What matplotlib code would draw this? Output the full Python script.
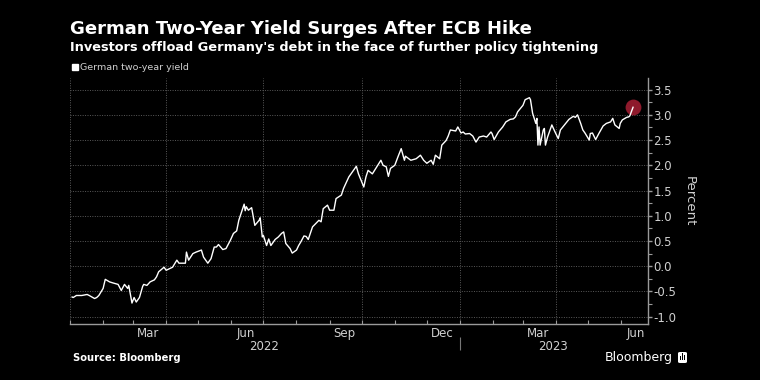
import matplotlib
matplotlib.use("Agg")
import matplotlib.pyplot as plt
import matplotlib.dates as mdates
from matplotlib.ticker import MultipleLocator, FixedLocator, NullFormatter
from matplotlib.lines import Line2D
from matplotlib.patches import FancyBboxPatch, Rectangle
import pandas as pd

# ---------------- data ----------------
dates = [
    "2022-01-03", "2022-01-04", "2022-01-07", "2022-01-12", "2022-01-17", "2022-01-19",
    "2022-01-24", "2022-01-26", "2022-01-28", "2022-02-01", "2022-02-03", "2022-02-07",
    "2022-02-10", "2022-02-15", "2022-02-18", "2022-02-21", "2022-02-24", "2022-02-25",
    "2022-02-28", "2022-03-02", "2022-03-04", "2022-03-07", "2022-03-10", "2022-03-11",
    "2022-03-14", "2022-03-17", "2022-03-21", "2022-03-23", "2022-03-25", "2022-03-30",
    "2022-04-01", "2022-04-04", "2022-04-07", "2022-04-11", "2022-04-13", "2022-04-19",
    "2022-04-20", "2022-04-22", "2022-04-26", "2022-04-29", "2022-05-04", "2022-05-06",
    "2022-05-10", "2022-05-13", "2022-05-16", "2022-05-18", "2022-05-20", "2022-05-24",
    "2022-05-27", "2022-05-31", "2022-06-03", "2022-06-06", "2022-06-08", "2022-06-13",
    "2022-06-14", "2022-06-15", "2022-06-17", "2022-06-20", "2022-06-23", "2022-06-27",
    "2022-06-28", "2022-06-30", "2022-07-01", "2022-07-04", "2022-07-06", "2022-07-08",
    "2022-07-12", "2022-07-15", "2022-07-18", "2022-07-20", "2022-07-22", "2022-07-26",
    "2022-07-28", "2022-08-01", "2022-08-03", "2022-08-05", "2022-08-08", "2022-08-10",
    "2022-08-12", "2022-08-16", "2022-08-22", "2022-08-24", "2022-08-26", "2022-08-30",
    "2022-09-01", "2022-09-05", "2022-09-07", "2022-09-12", "2022-09-14", "2022-09-19",
    "2022-09-26", "2022-09-28", "2022-10-03", "2022-10-05", "2022-10-07", "2022-10-11",
    "2022-10-14", "2022-10-19", "2022-10-21", "2022-10-24", "2022-10-26", "2022-10-28",
    "2022-11-01", "2022-11-04", "2022-11-07", "2022-11-10", "2022-11-11", "2022-11-16",
    "2022-11-21", "2022-11-25", "2022-11-28", "2022-12-01", "2022-12-05", "2022-12-07",
    "2022-12-09", "2022-12-13", "2022-12-15", "2022-12-19", "2022-12-21", "2022-12-23",
    "2022-12-28", "2022-12-30", "2023-01-02", "2023-01-04", "2023-01-06", "2023-01-10",
    "2023-01-13", "2023-01-16", "2023-01-19", "2023-01-23", "2023-01-26", "2023-01-30",
    "2023-01-31", "2023-02-02", "2023-02-06", "2023-02-08", "2023-02-10", "2023-02-13",
    "2023-02-17", "2023-02-20", "2023-02-22", "2023-02-24", "2023-03-01", "2023-03-03",
    "2023-03-07", "2023-03-08", "2023-03-10", "2023-03-13", "2023-03-14", "2023-03-15",
    "2023-03-16", "2023-03-17", "2023-03-20", "2023-03-21", "2023-03-22", "2023-03-24",
    "2023-03-28", "2023-03-31", "2023-04-03", "2023-04-05", "2023-04-11", "2023-04-13",
    "2023-04-17", "2023-04-19", "2023-04-21", "2023-04-24", "2023-04-26", "2023-04-28",
    "2023-05-02", "2023-05-03", "2023-05-05", "2023-05-08", "2023-05-11", "2023-05-15",
    "2023-05-18", "2023-05-22", "2023-05-24", "2023-05-26", "2023-05-30", "2023-05-31",
    "2023-06-02", "2023-06-06", "2023-06-08", "2023-06-09", "2023-06-12",
]
yield_2y = [
    -0.61, -0.62, -0.58, -0.58, -0.56, -0.58,
    -0.64, -0.62, -0.58, -0.44, -0.26, -0.31,
    -0.33, -0.36, -0.48, -0.36, -0.44, -0.38,
    -0.73, -0.62, -0.71, -0.62, -0.40, -0.36,
    -0.38, -0.31, -0.27, -0.21, -0.11, -0.02,
    -0.08, -0.05, -0.02, 0.12, 0.06, 0.06,
    0.28, 0.12, 0.25, 0.28, 0.32, 0.18,
    0.06, 0.15, 0.38, 0.38, 0.43, 0.33,
    0.35, 0.51, 0.65, 0.70, 0.91, 1.23,
    1.10, 1.18, 1.11, 1.16, 0.81, 0.91,
    0.96, 0.58, 0.61, 0.41, 0.54, 0.41,
    0.53, 0.58, 0.65, 0.68, 0.45, 0.35,
    0.26, 0.32, 0.41, 0.48, 0.60, 0.59,
    0.53, 0.78, 0.91, 0.88, 1.14, 1.21,
    1.11, 1.11, 1.34, 1.41, 1.54, 1.77,
    1.98, 1.83, 1.57, 1.77, 1.90, 1.83,
    1.93, 2.10, 2.00, 1.97, 1.78, 1.94,
    2.00, 2.17, 2.33, 2.10, 2.18, 2.10,
    2.13, 2.20, 2.10, 2.04, 2.10, 2.02,
    2.20, 2.13, 2.40, 2.49, 2.58, 2.70,
    2.68, 2.76, 2.64, 2.66, 2.62, 2.63,
    2.58, 2.46, 2.56, 2.58, 2.56, 2.66,
    2.63, 2.51, 2.66, 2.71, 2.76, 2.86,
    2.91, 2.92, 2.96, 3.06, 3.19, 3.30,
    3.34, 3.30, 3.03, 2.83, 2.93, 2.40,
    2.76, 2.40, 2.70, 2.73, 2.40, 2.56,
    2.80, 2.66, 2.53, 2.70, 2.86, 2.91,
    2.97, 2.95, 3.00, 2.83, 2.70, 2.64,
    2.50, 2.63, 2.64, 2.51, 2.63, 2.78,
    2.83, 2.86, 2.93, 2.80, 2.73, 2.83,
    2.90, 2.95, 2.96, 2.98, 3.15,
]
series_label = "German two-year yield"
month_labels = ["Mar", "Jun", "Sep", "Dec", "Mar", "Jun"]
month_label_dates = ["2022-03-15", "2022-06-15", "2022-09-15", "2022-12-15",
                     "2023-03-15", "2023-06-15"]
year_labels = ["2022", "2023"]
year_label_dates = ["2022-07-02", "2023-03-29"]
year_divider = ["2023-01-01"]
x_range = ["2022-01-01", "2023-06-26"]
y_range = [-1.145, 3.73]

title = "German Two-Year Yield Surges After ECB Hike"
subtitle = "Investors offload Germany's debt in the face of further policy tightening"

# ---------------- style ----------------
BG = "#000000"
FG = "#ffffff"
TICK = "#d0d0d0"
GRID = "#5a5a5a"
SPINE = "#9a9a9a"
DOT = "#8e1a2c"

plt.rcParams["font.family"] = ["DejaVu Sans"]

fig = plt.figure(figsize=(7.6, 3.8), dpi=100, facecolor=BG)
ax = fig.add_axes([70 / 760, 1 - 324 / 380, (648 - 70) / 760, (324 - 78) / 380])
ax.set_facecolor(BG)

x = pd.to_datetime(dates)
ax.plot(x, yield_2y, color=FG, lw=1.0, zorder=3, solid_joinstyle="round")
ax.scatter([x[-1]], [yield_2y[-1]], s=130, color=DOT, zorder=2, linewidths=0)

ax.set_xlim(pd.to_datetime(x_range))
ax.set_ylim(y_range)

# spines
for s in ["left", "top"]:
    ax.spines[s].set_visible(False)
for s in ["right", "bottom"]:
    ax.spines[s].set_color(SPINE)
    ax.spines[s].set_linewidth(1.0)

# y axis on right
ax.yaxis.tick_right()
ax.yaxis.set_label_position("right")
ax.yaxis.set_major_locator(MultipleLocator(0.5))
ax.yaxis.set_minor_locator(MultipleLocator(0.25))
ax.yaxis.set_major_formatter(matplotlib.ticker.FuncFormatter(lambda v, p: f"{v:.1f}"))
ax.tick_params(axis="y", which="major", colors=SPINE, labelcolor=TICK, labelsize=8.5,
               length=3, width=1, pad=1, direction="out")
ax.tick_params(axis="y", which="minor", colors=SPINE, length=3, width=0.8, direction="out")
ax.set_ylabel("Percent", color=TICK, fontsize=9.5, rotation=270, labelpad=14)

# x axis: month ticks, quarter grid
ax.xaxis.set_major_locator(mdates.MonthLocator(bymonth=[1, 4, 7, 10]))
ax.xaxis.set_minor_locator(mdates.MonthLocator())
ax.xaxis.set_major_formatter(NullFormatter())
ax.tick_params(axis="x", which="both", direction="in", colors=SPINE, length=3, width=0.8)

ax.grid(True, which="major", axis="both", color=GRID, lw=0.7, ls=(0, (1, 1.5)))

# month labels
sec = ax.secondary_xaxis("bottom")
sec.set_xticks(pd.to_datetime(month_label_dates), labels=month_labels)
sec.tick_params(axis="x", length=0, pad=2.5, labelsize=8.5, labelcolor=TICK)
sec.spines["bottom"].set_visible(False)

# year labels + divider
yr = ax.secondary_xaxis(-0.053)
yr.set_xticks(pd.to_datetime(year_label_dates), labels=year_labels)
yr.xaxis.set_minor_locator(FixedLocator(mdates.date2num(pd.to_datetime(year_divider))))
yr.tick_params(axis="x", which="major", length=0, pad=2, labelsize=8.5, labelcolor=TICK)
yr.tick_params(axis="x", which="minor", length=9.4, width=0.8, color="#777777", direction="out")
yr.spines["bottom"].set_visible(False)

# titles
fig.text(70 / 760, 1 - 29 / 380, title, color=FG, fontsize=13, fontweight="bold",
         va="center", ha="left")
fig.text(70 / 760, 1 - 48 / 380, subtitle, color=FG, fontsize=9.3, fontweight="bold",
         va="center", ha="left")

# legend
handle = Line2D([], [], marker="s", color=FG, linestyle="none", markersize=5)
leg = fig.legend([handle], [series_label], loc="center left",
                 bbox_to_anchor=(72 / 760, 1 - 68 / 380), frameon=False,
                 fontsize=6.8, labelcolor=TICK, handlelength=0.6, handletextpad=0.3,
                 borderpad=0, borderaxespad=0)

# footer
fig.text(73 / 760, 1 - 358 / 380, "Source: Bloomberg", color=FG, fontsize=7.2,
         fontweight="bold", va="center", ha="left")
fig.text(673 / 760, 1 - 357 / 380, "Bloomberg", color=FG, fontsize=9,
         va="center", ha="right")
logo = FancyBboxPatch((678 / 760, 1 - 363 / 380), 9 / 760, 11 / 380,
                      boxstyle="round,pad=0,rounding_size=0.003",
                      transform=fig.transFigure, facecolor=FG, edgecolor="none")
fig.patches.append(logo)
for i, h in enumerate([4, 7, 5]):
    fig.patches.append(Rectangle(((680 + i * 2) / 760, 1 - 360 / 380), 1.2 / 760, h / 380,
                                 transform=fig.transFigure, facecolor=BG, edgecolor="none"))

fig.savefig("out.png", dpi=100, facecolor=BG)
